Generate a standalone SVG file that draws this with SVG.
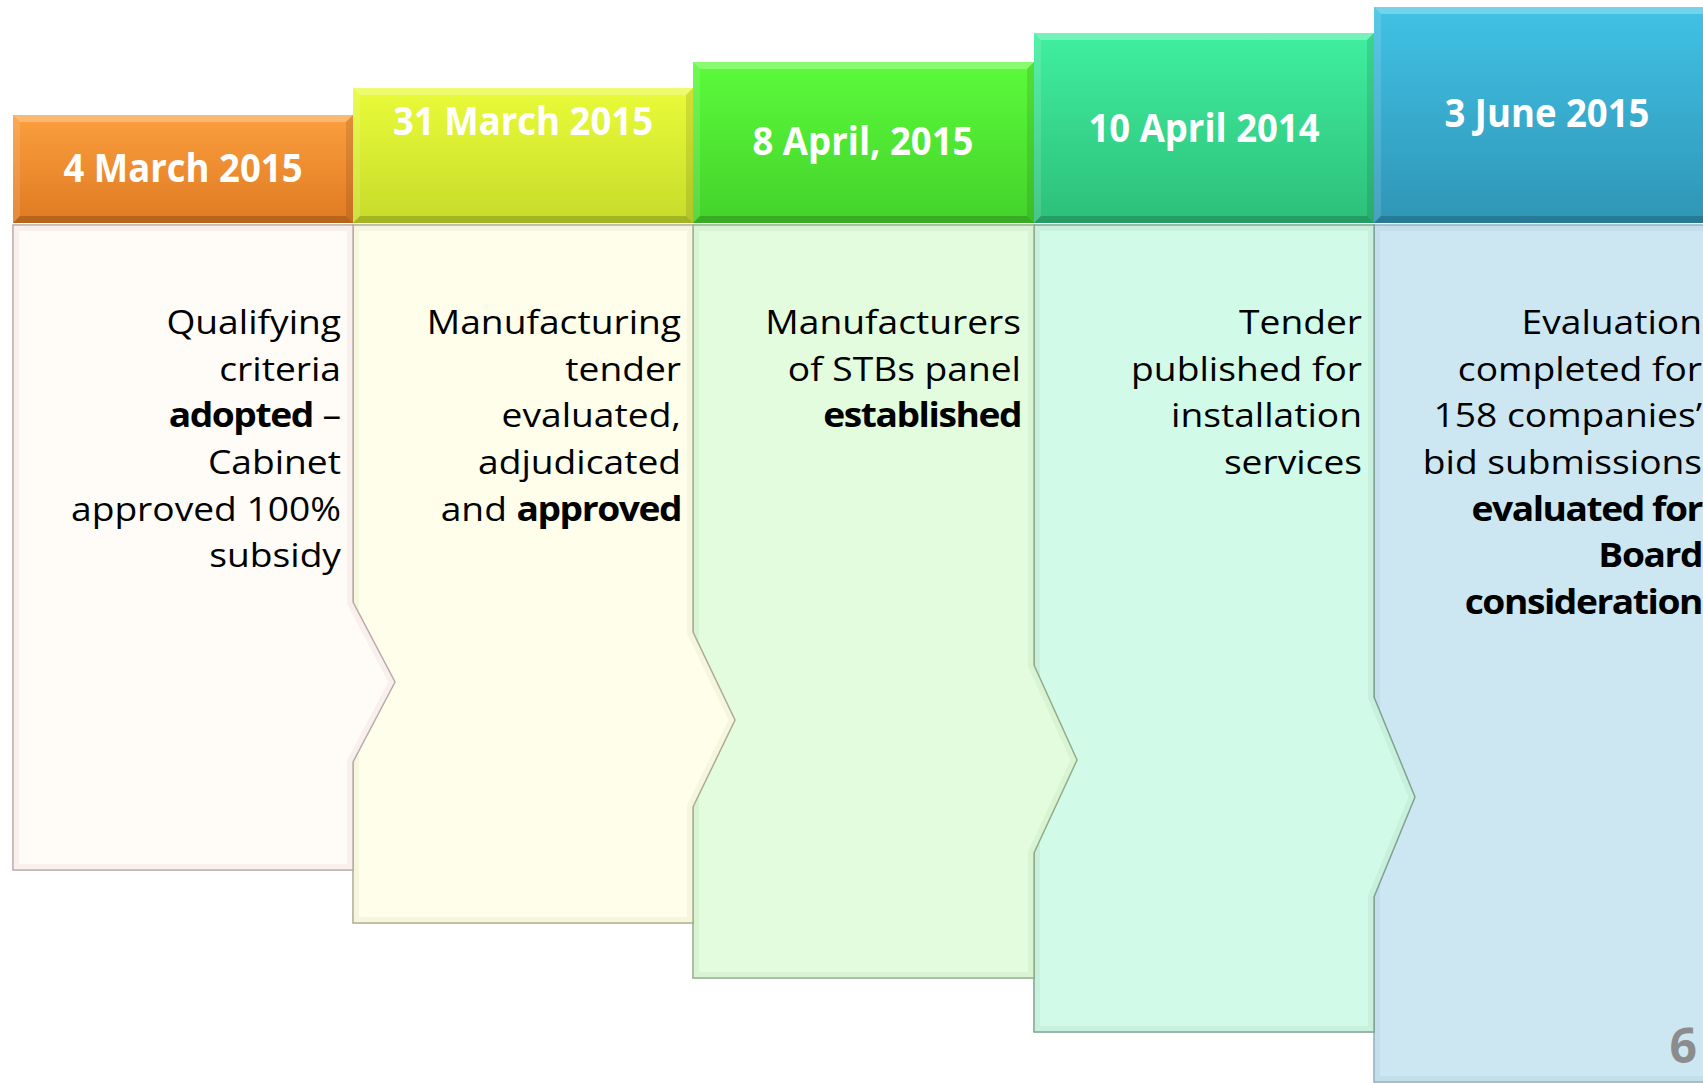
<svg xmlns="http://www.w3.org/2000/svg" xmlns:xlink="http://www.w3.org/1999/xlink" width="1703" height="1083" viewBox="0 0 1703 1083">
<style>
.hd{font-family:"Open Sans","Liberation Sans",sans-serif;font-weight:700;font-size:39px;fill:#ffffff;text-anchor:middle}
.bt{font-family:"Open Sans","Liberation Sans",sans-serif;font-size:33.5px;fill:#000000;text-anchor:end}
.b{font-weight:700;letter-spacing:-1.3px}
.hl{fill:#ffffff;fill-opacity:0.28}
.hl2{fill:#ffffff;fill-opacity:0.12}
.sh{fill:#000000;fill-opacity:0.1}
.sh2{fill:#000000;fill-opacity:0.18}
.bev{fill:none;stroke-width:12}
.pg{font-family:"Open Sans","Liberation Sans",sans-serif;font-weight:700;font-size:48px;fill:#8C8C8C;text-anchor:end}
</style>
<defs>
<linearGradient id="g1" x1="0" y1="0" x2="0" y2="1"><stop offset="0" stop-color="#FA9F3E"/><stop offset="1" stop-color="#E07A22"/></linearGradient>
<linearGradient id="g2" x1="0" y1="0" x2="0" y2="1"><stop offset="0" stop-color="#E9FB38"/><stop offset="1" stop-color="#C7DC2B"/></linearGradient>
<linearGradient id="g3" x1="0" y1="0" x2="0" y2="1"><stop offset="0" stop-color="#5BFB3B"/><stop offset="1" stop-color="#44D22B"/></linearGradient>
<linearGradient id="g4" x1="0" y1="0" x2="0" y2="1"><stop offset="0" stop-color="#40EFA0"/><stop offset="1" stop-color="#2DBF7A"/></linearGradient>
<linearGradient id="g5" x1="0" y1="0" x2="0" y2="1"><stop offset="0" stop-color="#41C2E5"/><stop offset="1" stop-color="#2F95B6"/></linearGradient>
<path id="p1" d="M13 225 H353 V602 L395 682 L353 762 V870 H13 Z"/>
<path id="p2" d="M353 225 H693 V632 L735 720 L693 807 V923 H353 Z"/>
<path id="p3" d="M693 225 H1034 V665 L1077 760 L1034 853 V978 H693 Z"/>
<path id="p4" d="M1034 225 H1374 V697 L1415 797 L1374 897 V1032 H1034 Z"/>
<path id="p5" d="M1374 225 H1720 V1082 H1374 Z"/>
<clipPath id="c1"><use xlink:href="#p1"/></clipPath>
<clipPath id="c2"><use xlink:href="#p2"/></clipPath>
<clipPath id="c3"><use xlink:href="#p3"/></clipPath>
<clipPath id="c4"><use xlink:href="#p4"/></clipPath>
<clipPath id="c5"><use xlink:href="#p5"/></clipPath>
</defs>
<rect x="0" y="0" width="1703" height="1083" fill="#ffffff"/>

<g id="step5">
<rect x="1374" y="7" width="346" height="216" fill="url(#g5)"/>
<polygon class="hl" points="1374,7 1720,7 1713,14 1381,14"/>
<polygon class="hl2" points="1374,7 1381,14 1381,216 1374,223"/>
<polygon class="sh2" points="1374,223 1720,223 1713,216 1381,216"/>
<text class="hd" x="1547" y="127" textLength="205" lengthAdjust="spacingAndGlyphs">3 June 2015</text>
<use xlink:href="#p5" fill="#CCE7F2" stroke="#8FAEBB" stroke-width="1.5"/>
<use xlink:href="#p5" class="bev" stroke="#9CC4D4" stroke-opacity="0.2" clip-path="url(#c5)"/>
<g transform="translate(1702,0) scale(1.11,1)">
<text class="bt" x="0" y="334">Evaluation</text>
<text class="bt" x="0" y="380.7">completed for</text>
<text class="bt" x="0" y="427.4">158 companies’</text>
<text class="bt" x="0" y="474.1">bid submissions</text>
<text class="bt b" x="0" y="520.8">evaluated for</text>
<text class="bt b" x="0" y="567.5">Board</text>
<text class="bt b" x="0" y="614.2">consideration</text>
</g>
<text class="pg" x="1697" y="1063">6</text>
</g>

<g id="step4">
<rect x="1034" y="33" width="340" height="190" fill="url(#g4)"/>
<polygon class="hl" points="1034,33 1374,33 1367,40 1041,40"/>
<polygon class="hl2" points="1034,33 1041,40 1041,216 1034,223"/>
<polygon class="sh" points="1374,33 1374,223 1367,216 1367,40"/>
<polygon class="sh2" points="1034,223 1374,223 1367,216 1041,216"/>
<text class="hd" x="1204" y="142" textLength="231" lengthAdjust="spacingAndGlyphs">10 April 2014</text>
<use xlink:href="#p4" fill="#D2FAE8" stroke="#7E9E8E" stroke-width="1.5"/>
<use xlink:href="#p4" class="bev" stroke="#9CCDB4" stroke-opacity="0.2" clip-path="url(#c4)"/>
<g transform="translate(1362,0) scale(1.11,1)">
<text class="bt" x="0" y="334">Tender</text>
<text class="bt" x="0" y="380.7">published for</text>
<text class="bt" x="0" y="427.4">installation</text>
<text class="bt" x="0" y="474.1">services</text>
</g>
</g>

<g id="step3">
<rect x="693" y="62" width="341" height="161" fill="url(#g3)"/>
<polygon class="hl" points="693,62 1034,62 1027,69 700,69"/>
<polygon class="hl2" points="693,62 700,69 700,216 693,223"/>
<polygon class="sh" points="1034,62 1034,223 1027,216 1027,69"/>
<polygon class="sh2" points="693,223 1034,223 1027,216 700,216"/>
<text class="hd" x="863" y="155" textLength="221" lengthAdjust="spacingAndGlyphs">8 April, 2015</text>
<use xlink:href="#p3" fill="#E3FCDD" stroke="#8FA888" stroke-width="1.5"/>
<use xlink:href="#p3" class="bev" stroke="#B5D6A8" stroke-opacity="0.2" clip-path="url(#c3)"/>
<g transform="translate(1021,0) scale(1.11,1)">
<text class="bt" x="0" y="334">Manufacturers</text>
<text class="bt" x="0" y="380.7">of STBs panel</text>
<text class="bt b" x="0" y="427.4">established</text>
</g>
</g>

<g id="step2">
<rect x="353" y="88" width="340" height="135" fill="url(#g2)"/>
<polygon class="hl" points="353,88 693,88 686,95 360,95"/>
<polygon class="hl2" points="353,88 360,95 360,216 353,223"/>
<polygon class="sh" points="693,88 693,223 686,216 686,95"/>
<polygon class="sh2" points="353,223 693,223 686,216 360,216"/>
<text class="hd" x="523" y="135" textLength="260" lengthAdjust="spacingAndGlyphs">31 March 2015</text>
<use xlink:href="#p2" fill="#FEFEEA" stroke="#A8A890" stroke-width="1.5"/>
<use xlink:href="#p2" class="bev" stroke="#D8D6B4" stroke-opacity="0.2" clip-path="url(#c2)"/>
<g transform="translate(681,0) scale(1.11,1)">
<text class="bt" x="0" y="334">Manufacturing</text>
<text class="bt" x="0" y="380.7">tender</text>
<text class="bt" x="0" y="427.4">evaluated,</text>
<text class="bt" x="0" y="474.1">adjudicated</text>
<text class="bt" x="0" y="520.8">and <tspan class="b">approved</tspan></text>
</g>
</g>

<g id="step1">
<rect x="13" y="115" width="340" height="108" fill="url(#g1)"/>
<polygon class="hl" points="13,115 353,115 346,122 20,122"/>
<polygon class="hl2" points="13,115 20,122 20,216 13,223"/>
<polygon class="sh" points="353,115 353,223 346,216 346,122"/>
<polygon class="sh2" points="13,223 353,223 346,216 20,216"/>
<text class="hd" x="183" y="182" textLength="239" lengthAdjust="spacingAndGlyphs">4 March 2015</text>
<use xlink:href="#p1" fill="#FFFCF8" stroke="#B0A4A4" stroke-width="1.5"/>
<use xlink:href="#p1" class="bev" stroke="#EBCFCF" stroke-opacity="0.3" clip-path="url(#c1)"/>
<g transform="translate(341,0) scale(1.11,1)">
<text class="bt" x="0" y="334">Qualifying</text>
<text class="bt" x="0" y="380.7">criteria</text>
<text class="bt" x="0" y="427.4"><tspan class="b">adopted</tspan> –</text>
<text class="bt" x="0" y="474.1">Cabinet</text>
<text class="bt" x="0" y="520.8">approved 100%</text>
<text class="bt" x="0" y="567.5">subsidy</text>
</g>
</g>
</svg>
